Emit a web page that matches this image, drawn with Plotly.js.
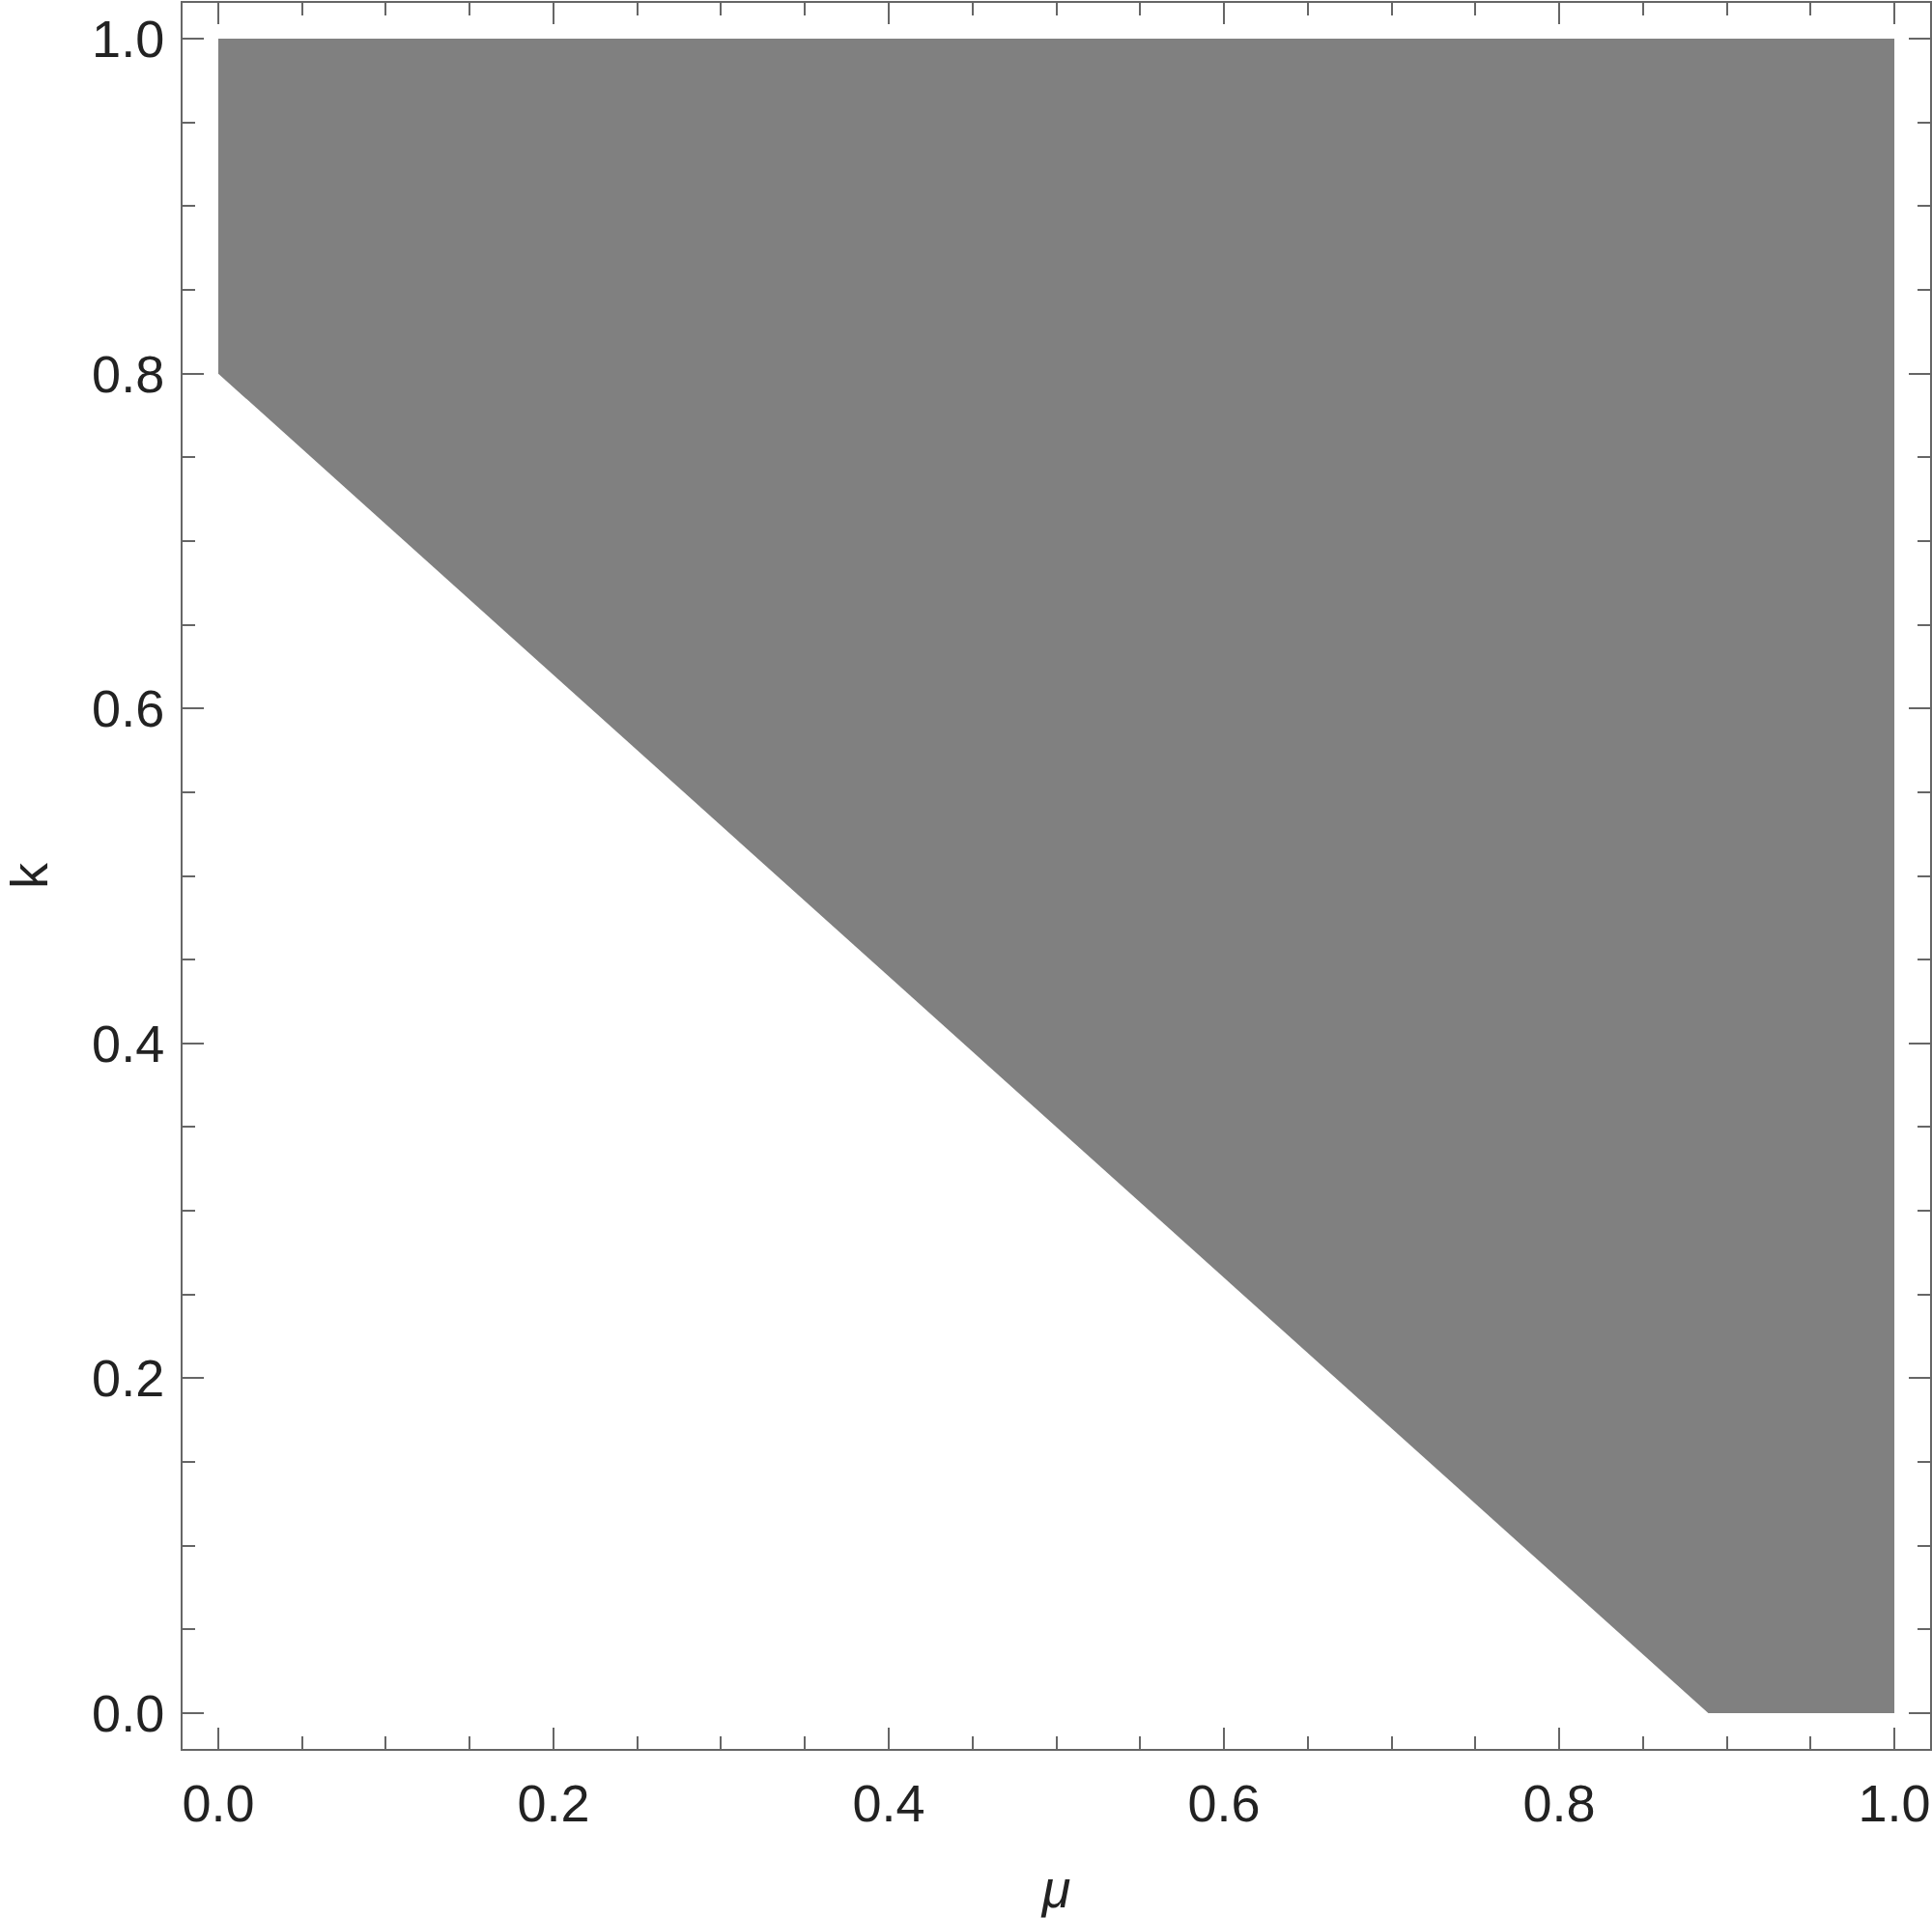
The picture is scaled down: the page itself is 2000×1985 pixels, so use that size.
<!DOCTYPE html>
<html>
<head>
<meta charset="utf-8">
<script src="https://cdn.plot.ly/plotly-3.0.1.min.js"></script>
<style>
html,body{margin:0;padding:0;background:#fff;}
#chart{width:2000px;height:1985px;}
</style>
</head>
<body>
<div id="chart"></div>
<script>
// Region k >= 0.8 - 0.9*mu, clipped to the unit square
const regionMu = [0, 0.889, 1, 1, 0, 0];
const regionK  = [0.8, 0, 0, 1, 1, 0.8];
const majorTicks = [0, 0.2, 0.4, 0.6, 0.8, 1.0];
const tickLabels = ["0.0", "0.2", "0.4", "0.6", "0.8", "1.0"];
const xTitle = "μ";
const yTitle = "k";

const axisCommon = {
  showgrid: false,
  zeroline: false,
  showline: true,
  linecolor: '#666666',
  linewidth: 2,
  mirror: 'allticks',
  ticks: 'inside',
  ticklen: 22,
  tickwidth: 2,
  tickcolor: '#666666',
  tickmode: 'array',
  tickvals: majorTicks,
  ticktext: tickLabels,
  tickfont: {family: 'Liberation Sans, Arial, sans-serif', size: 54, color: '#222222'},
  minor: {dtick: 0.05, tick0: 0, ticklen: 13, tickwidth: 2, tickcolor: '#666666', ticks: 'inside', showgrid: false},
  fixedrange: true
};

const data = [{
  type: 'scatter',
  mode: 'lines',
  x: regionMu,
  y: regionK,
  fill: 'toself',
  fillcolor: '#808080',
  line: {width: 0, color: '#808080'},
  hoverinfo: 'skip',
  showlegend: false
}];

const layout = {
  width: 2000,
  height: 1985,
  margin: {l: 189, r: 2, t: 3, b: 175},
  paper_bgcolor: '#ffffff',
  plot_bgcolor: '#ffffff',
  showlegend: false,
  xaxis: Object.assign({}, axisCommon, {
    range: [-0.0213, 1.0213],
    ticklabelstandoff: 8,
    title: {text: xTitle, font: {family: 'Liberation Sans, Arial, sans-serif', size: 54, color: '#222222', style: 'italic'}, standoff: 55}
  }),
  yaxis: Object.assign({}, axisCommon, {
    range: [-0.0214, 1.0214],
    ticklabelstandoff: 6,
    title: {text: yTitle, font: {family: 'Liberation Sans, Arial, sans-serif', size: 54, color: '#222222'}, standoff: 40}
  })
};

Plotly.newPlot('chart', data, layout, {displayModeBar: false, staticPlot: true});
</script>
</body>
</html>
